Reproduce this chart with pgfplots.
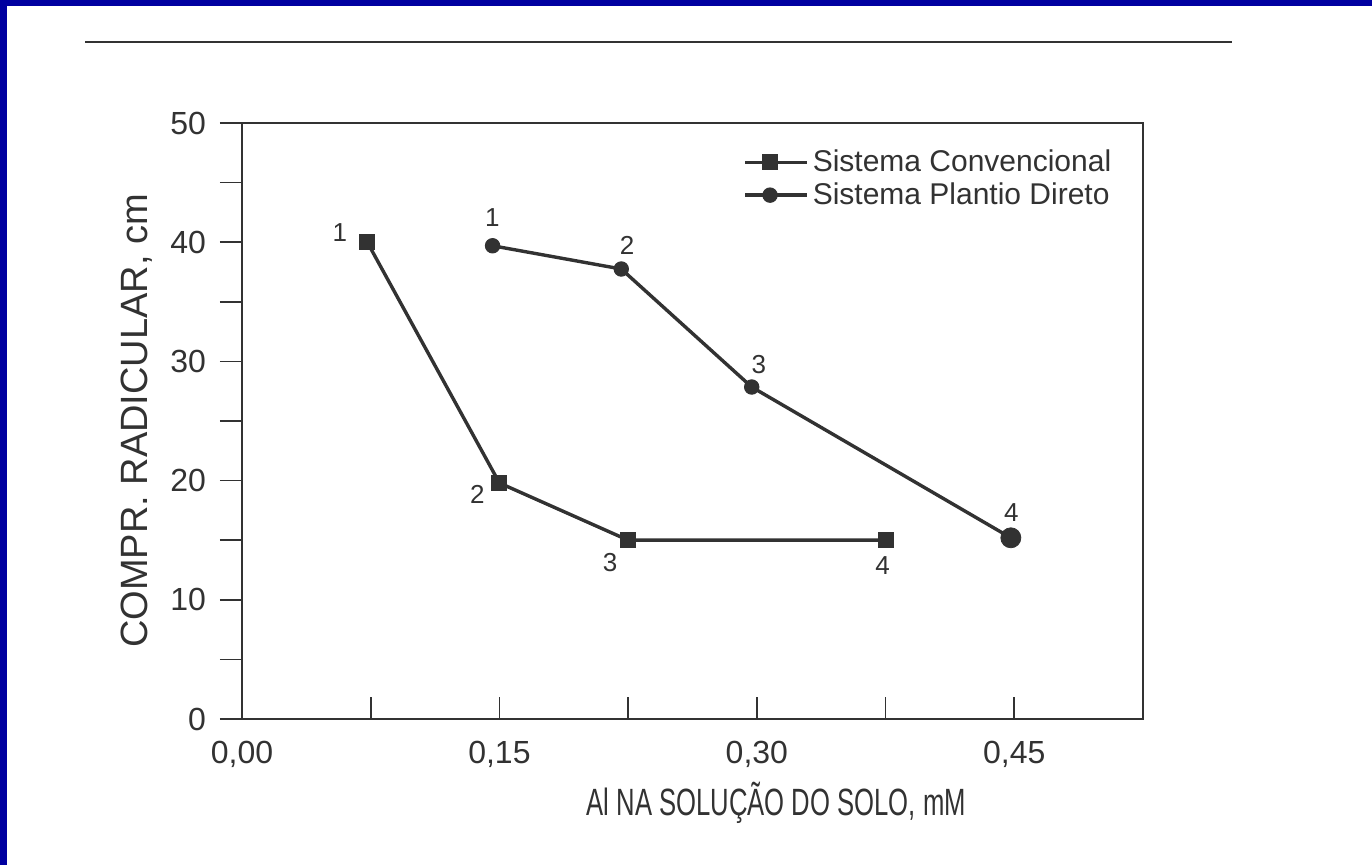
\documentclass[border=0pt]{standalone}
\usepackage{fontspec}
\setmainfont{Liberation Sans}
\usepackage{pgfplots}
\pgfplotsset{compat=1.18}
\definecolor{bordblue}{RGB}{0,0,160}
\definecolor{ink}{RGB}{50,50,50}
\tikzset{plab/.style={font=\fontsize{13}{15}\selectfont, text=ink, inner sep=0pt}}
\begin{document}
\begin{tikzpicture}
\fill[white] (0,0) rectangle (686pt,432.5pt);
\fill[bordblue] (0,0) rectangle (3.5pt,432.5pt);
\fill[bordblue] (0,429.5pt) rectangle (686pt,432.5pt);
\draw[ink, line width=1pt] (42.5pt,411.5pt) -- (616pt,411.5pt);
\begin{axis}[
  at={(121pt,73pt)}, anchor=south west,
  scale only axis, width=450.5pt, height=298pt,
  xmin=0, xmax=0.525, ymin=0, ymax=50,
  axis line style={ink, line width=1pt},
  xtick={0,0.15,0.30,0.45},
  xticklabels={{0,00},{0,15},{0,30},{0,45}},
  minor xtick={0.075,0.225,0.375},
  ytick={0,10,20,30,40,50},
  minor ytick={5,15,25,35,45},
  xtick align=inside, ytick align=outside,
  xtick pos=left, ytick pos=left,
  major tick length=11pt, minor tick length=11pt,
  tick style={ink, line width=0.8pt},
  /pgf/number format/assume math mode=true,
  ticklabel style={font=\fontsize{16}{18}\selectfont, text=ink},
  xticklabel style={yshift=-7.5pt},
  yticklabel style={xshift=-3.5pt},
  xlabel={Al NA SOLUÇÃO DO SOLO, mM},
  xlabel style={at={(rel axis cs:0.593,-0.141)}, anchor=center, font=\fontsize{19}{21}\selectfont, text=ink, xscale=0.675},
  ylabel={COMPR. RADICULAR, cm},
  ylabel style={at={(rel axis cs:-0.117,0.5)}, anchor=center, font=\fontsize{19}{21}\selectfont, text=ink},
  legend style={draw=none, fill=none, at={(rel axis cs:0.556,0.962)}, anchor=north west,
    font=\fontsize{15}{17}\selectfont, text=ink, row sep=0pt, inner sep=0pt,
    nodes={inner sep=2pt, text=ink}},
  legend cell align=left,
  legend image code/.code={\draw[mark repeat=2,mark phase=2,#1] plot coordinates {(0pt,0pt) (12.5pt,0pt) (25pt,0pt)}; \path (25pt,0pt) -- (31pt,0pt);},
]
\addplot[ink, line width=1.7pt, mark=square*, mark size=3.75pt, mark options={solid, fill=ink, line width=0.5pt}]
  coordinates {(0.073,40.0) (0.150,19.8) (0.225,15.0) (0.375,15.0)};
\addlegendentry{Sistema Convencional}
\addplot[ink, line width=1.7pt, mark=*, mark size=3.6pt, mark options={solid, fill=ink, line width=0.5pt}]
  coordinates {(0.146,39.7) (0.221,37.75) (0.297,27.85) (0.448,15.2)};
\addlegendentry{Sistema Plantio Direto}
\addplot[forget plot, only marks, mark=*, mark size=5pt, ink, mark options={fill=ink}]
  coordinates {(0.448,15.2)};
\node[plab] at (axis cs:0.057,40.77) {1};
\node[plab] at (axis cs:0.1372,18.88) {2};
\node[plab] at (axis cs:0.2145,13.09) {3};
\node[plab] at (axis cs:0.3733,12.84) {4};
\node[plab] at (axis cs:0.1459,42.03) {1};
\node[plab] at (axis cs:0.2244,39.77) {2};
\node[plab] at (axis cs:0.3012,29.70) {3};
\node[plab] at (axis cs:0.4483,17.28) {4};
\end{axis}
\end{tikzpicture}
\end{document}
